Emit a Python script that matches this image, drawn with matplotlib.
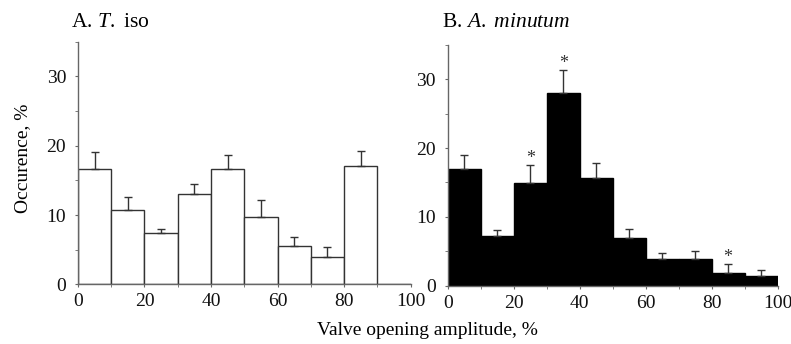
import numpy as np
import matplotlib
matplotlib.use('Agg')
import matplotlib.pyplot as plt
from matplotlib.ticker import MultipleLocator

# Class edges of valve opening amplitude (%)
bins_left = [0, 10, 20, 30, 40, 50, 60, 70, 80, 90]

# A. T. iso : mean occurrence (%) and upper error
t_iso = [16.6, 10.7, 7.4, 13.0, 16.6, 9.7, 5.6, 3.9, 17.1, 0.0]
t_iso_err = [2.5, 1.9, 0.6, 1.5, 2.1, 2.5, 1.3, 1.5, 2.2, 0.0]

# B. A. minutum : mean occurrence (%) and upper error
a_min = [17.0, 7.2, 14.9, 28.0, 15.7, 7.0, 3.9, 3.9, 1.9, 1.4]
a_min_err = [2.0, 0.9, 2.6, 3.3, 2.2, 1.3, 0.8, 1.2, 1.3, 0.9]
a_min_signif = [False, False, True, True, False, False, False, False, True, False]

plt.rcParams['font.family'] = ['Liberation Serif', 'DejaVu Serif']
plt.rcParams['mathtext.fontset'] = 'custom'
plt.rcParams['mathtext.rm'] = 'Liberation Serif'
plt.rcParams['mathtext.it'] = 'Liberation Serif:italic'

fig = plt.figure(figsize=(7.91, 3.44), dpi=100)
ax1 = fig.add_axes([0.0986, 0.1735, 0.4204, 0.705])
ax2 = fig.add_axes([0.566, 0.1695, 0.417, 0.700])

axis_col = '#666666'


def style_axis(ax):
    ax.set_xlim(0, 100)
    ax.set_ylim(0, 35)
    for s in ['top', 'right']:
        ax.spines[s].set_visible(False)
    for s in ['left', 'bottom']:
        ax.spines[s].set_color(axis_col)
        ax.spines[s].set_linewidth(1.0)
    ax.set_xticks([0, 20, 40, 60, 80, 100])
    ax.set_yticks([0, 10, 20, 30])
    ax.xaxis.set_minor_locator(MultipleLocator(10))
    ax.yaxis.set_minor_locator(MultipleLocator(5))
    ax.tick_params(axis='x', which='major', direction='out', length=2.5,
                   color=axis_col, labelsize=14, labelcolor='#111111', pad=4)
    ax.tick_params(axis='y', which='major', direction='out', length=2.5,
                   color=axis_col, labelsize=14, labelcolor='#111111', pad=6)
    ax.tick_params(axis='both', which='minor', direction='out', length=2, color=axis_col)


def draw_hist(ax, vals, errs, face, edge):
    x = np.array(bins_left) + 5
    v = np.array(vals)
    e = np.array(errs)
    ax.bar(x, v, width=10, color=face, edgecolor=edge, linewidth=1.0, zorder=2)
    keep = v > 0
    ax.errorbar(x[keep], v[keep], yerr=[np.zeros(keep.sum()), e[keep]], fmt='none',
                ecolor='#333333', elinewidth=1.0, capsize=3, capthick=1.0, zorder=3)


style_axis(ax1)
draw_hist(ax1, t_iso, t_iso_err, 'white', '#333333')

style_axis(ax2)
draw_hist(ax2, a_min, a_min_err, 'black', 'black')
for b, v, e, s in zip(bins_left, a_min, a_min_err, a_min_signif):
    if s:
        ax2.text(b + 5, v + e - 0.3, '*', ha='center', va='bottom', fontsize=13,
                 color='#333333')

fig.text(0.0898, 0.9225, r'A. $\mathit{T.}$ iso', fontsize=15.5, ha='left', va='baseline')
fig.text(0.5584, 0.9225, r'B. $\mathit{A.\ minutum}$', fontsize=15.5, ha='left', va='baseline')

fig.text(0.028, 0.54, 'Occurence, %', rotation=90, fontsize=14, ha='center', va='center')
fig.text(0.54, 0.038, 'Valve opening amplitude, %', fontsize=14, ha='center', va='center')

fig.savefig('out.png', dpi=100)
